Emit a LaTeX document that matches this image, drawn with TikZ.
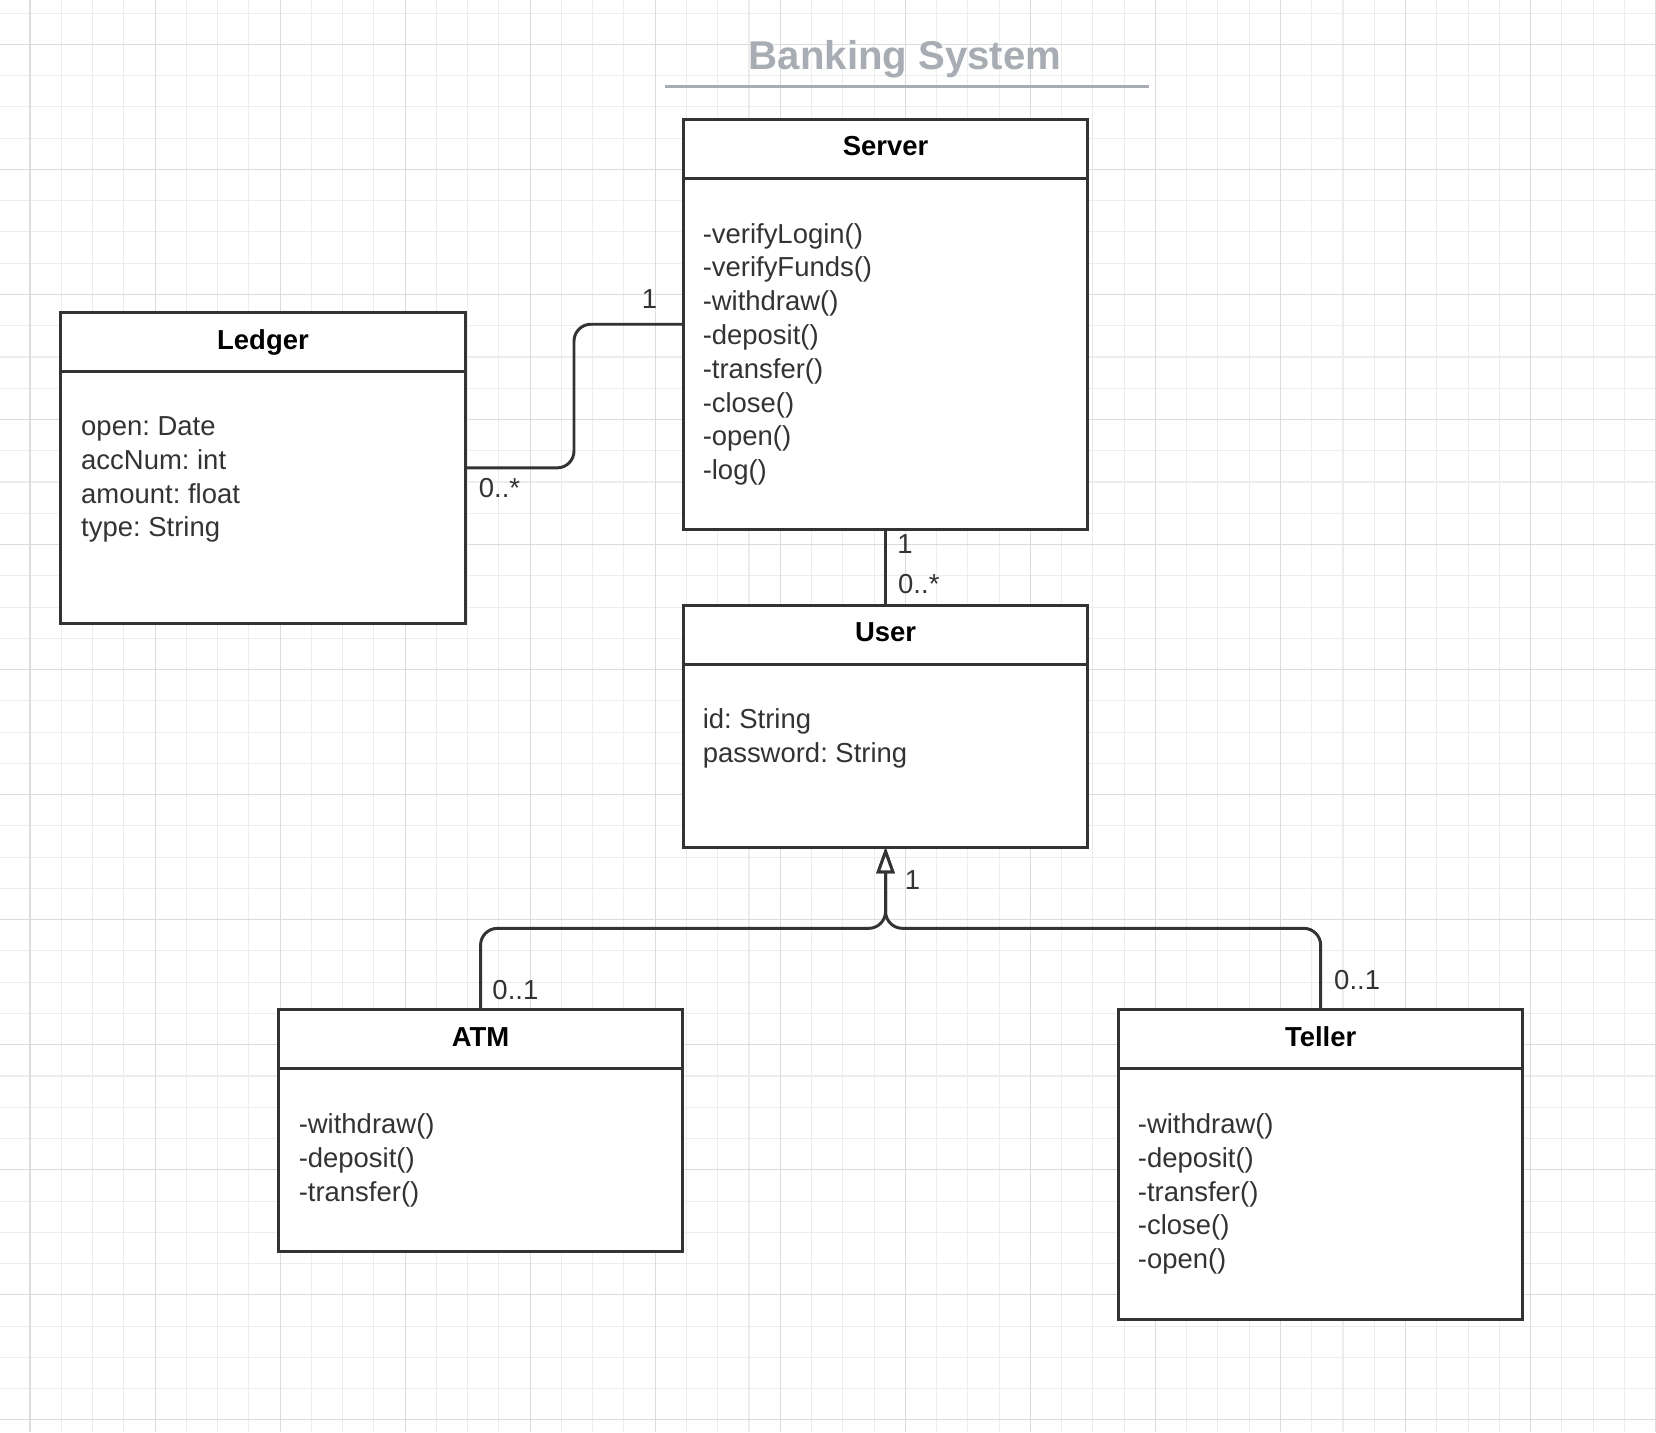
\documentclass[tikz,border=0pt]{standalone}
\usepackage{fontspec}
\setmainfont{Liberation Sans}
\frenchspacing
\usepackage{tikz}
\usetikzlibrary{arrows.meta,shapes,positioning,calc}
\definecolor{umlline}{HTML}{333333}
\definecolor{umltext}{HTML}{333333}
\definecolor{titlegray}{HTML}{A8ACB3}
\definecolor{gridminor}{HTML}{EDEDED}
\definecolor{gridmajor}{HTML}{DCDCDC}
\tikzstyle{classhead}=[draw=umlline,line width=1.4pt,fill=white,minimum width=191.5pt,minimum height=28pt,inner sep=0pt,outer sep=0pt,font=\fontsize{13}{16}\selectfont\bfseries,text height=9.5pt,text depth=3pt]
\tikzstyle{classbody}=[draw=umlline,line width=1.4pt,fill=white,minimum width=191.5pt,inner sep=0pt,outer sep=0pt]
\tikzstyle{members}=[inner sep=0pt,align=left,text=umltext,font=\fontsize{13}{16}\selectfont]
\tikzstyle{mult}=[inner sep=0pt,text=umltext,font=\fontsize{13}{16}\selectfont]
\tikzstyle{edge}=[draw=umlline,line width=1.4pt,rounded corners=8pt]
\tikzstyle{inherit}=[-{Triangle[open,fill=white,length=12.5pt,width=8.5pt]}]

\begin{document}
\begin{tikzpicture}[x=0.5pt,y=-0.5pt]
    \useasboundingbox (0,0) rectangle (1568,1356);
    \fill[white] (0,0) rectangle (1568,1356);
    % Background grid
    \foreach \i in {-1,...,52}
        \draw[gridminor,line width=0.5pt] ({28.4+29.6*\i},0) -- ({28.4+29.6*\i},1356);
    \foreach \i in {-1,...,44}
        \draw[gridminor,line width=0.5pt] (0,{42+29.6*\i}) -- (1568,{42+29.6*\i});
    \foreach \i in {0,...,13}
        \draw[gridmajor,line width=0.5pt] ({28.4+118.4*\i},0) -- ({28.4+118.4*\i},1356);
    \foreach \i in {0,...,11}
        \draw[gridmajor,line width=0.5pt] (0,{42+118.4*\i}) -- (1568,{42+118.4*\i});

    % Title
    \node[font=\fontsize{19}{23}\selectfont\bfseries,text=titlegray] (title) at (857,56) {Banking System};
    \draw[titlegray,line width=1.4pt] (630,82) -- (1088,82);

    % Classes
    \node[classhead] (server) at (838.5,141) {Server};
    \node[classbody,minimum height=166pt,below=0pt of server] (serverops) {};
    \node[members,below right=21pt and 9pt of serverops.north west] (serverlist)
        {-verifyLogin()\\-verifyFunds()\\-withdraw()\\-deposit()\\-transfer()\\-close()\\-open()\\-log()};

    \node[classhead] (ledger) at (249,324) {Ledger};
    \node[classbody,minimum height=119pt,below=0pt of ledger] (ledgerattrs) {};
    \node[members,below right=21pt and 9.5pt of ledgerattrs.north west] (ledgerlist)
        {open: Date\\accNum: int\\amount: float\\type: String};

    \node[classhead] (user) at (838.5,601) {User};
    \node[classbody,minimum height=86.5pt,below=0pt of user] (userattrs) {};
    \node[members,below right=21pt and 9pt of userattrs.north west] (userlist)
        {id: String\\password: String};

    \node[classhead] (atm) at (455,984) {ATM};
    \node[classbody,minimum height=86.5pt,below=0pt of atm] (atmops) {};
    \node[members,below right=21pt and 9.5pt of atmops.north west] (atmlist)
        {-withdraw()\\-deposit()\\-transfer()};

    \node[classhead] (teller) at (1250.5,984) {Teller};
    \node[classbody,minimum height=118.5pt,below=0pt of teller] (tellerops) {};
    \node[members,below right=21pt and 9pt of tellerops.north west] (tellerlist)
        {-withdraw()\\-deposit()\\-transfer()\\-close()\\-open()};

    % Associations
    \draw[edge] ($(ledger.north east)!0.5!(ledgerattrs.south east)$) -- ++(103,0)
        |- ($(server.north west)!0.5!(serverops.south west)$);
    \draw[edge] (serverops.south) -- (user.north);

    % Generalisation
    \coordinate (merge) at ($(userattrs.south)+(0,77)$);
    \draw[edge,inherit] (atm.north) |- (merge) -- (userattrs.south);
    \draw[edge,inherit] (teller.north) |- (merge) -- (userattrs.south);

    % Multiplicities
    \node[mult] (ledgerend) at (473,462) {0..*};
    \node[mult] (serverend) at (615,283) {1};
    \node[mult] (serverlow) at (857,515) {1};
    \node[mult] (userhigh) at (870,553) {0..*};
    \node[mult] (userlow) at (864,833) {1};
    \node[mult] (atmend) at (488,937) {0..1};
    \node[mult] (tellerend) at (1285,928) {0..1};
\end{tikzpicture}
\end{document}
